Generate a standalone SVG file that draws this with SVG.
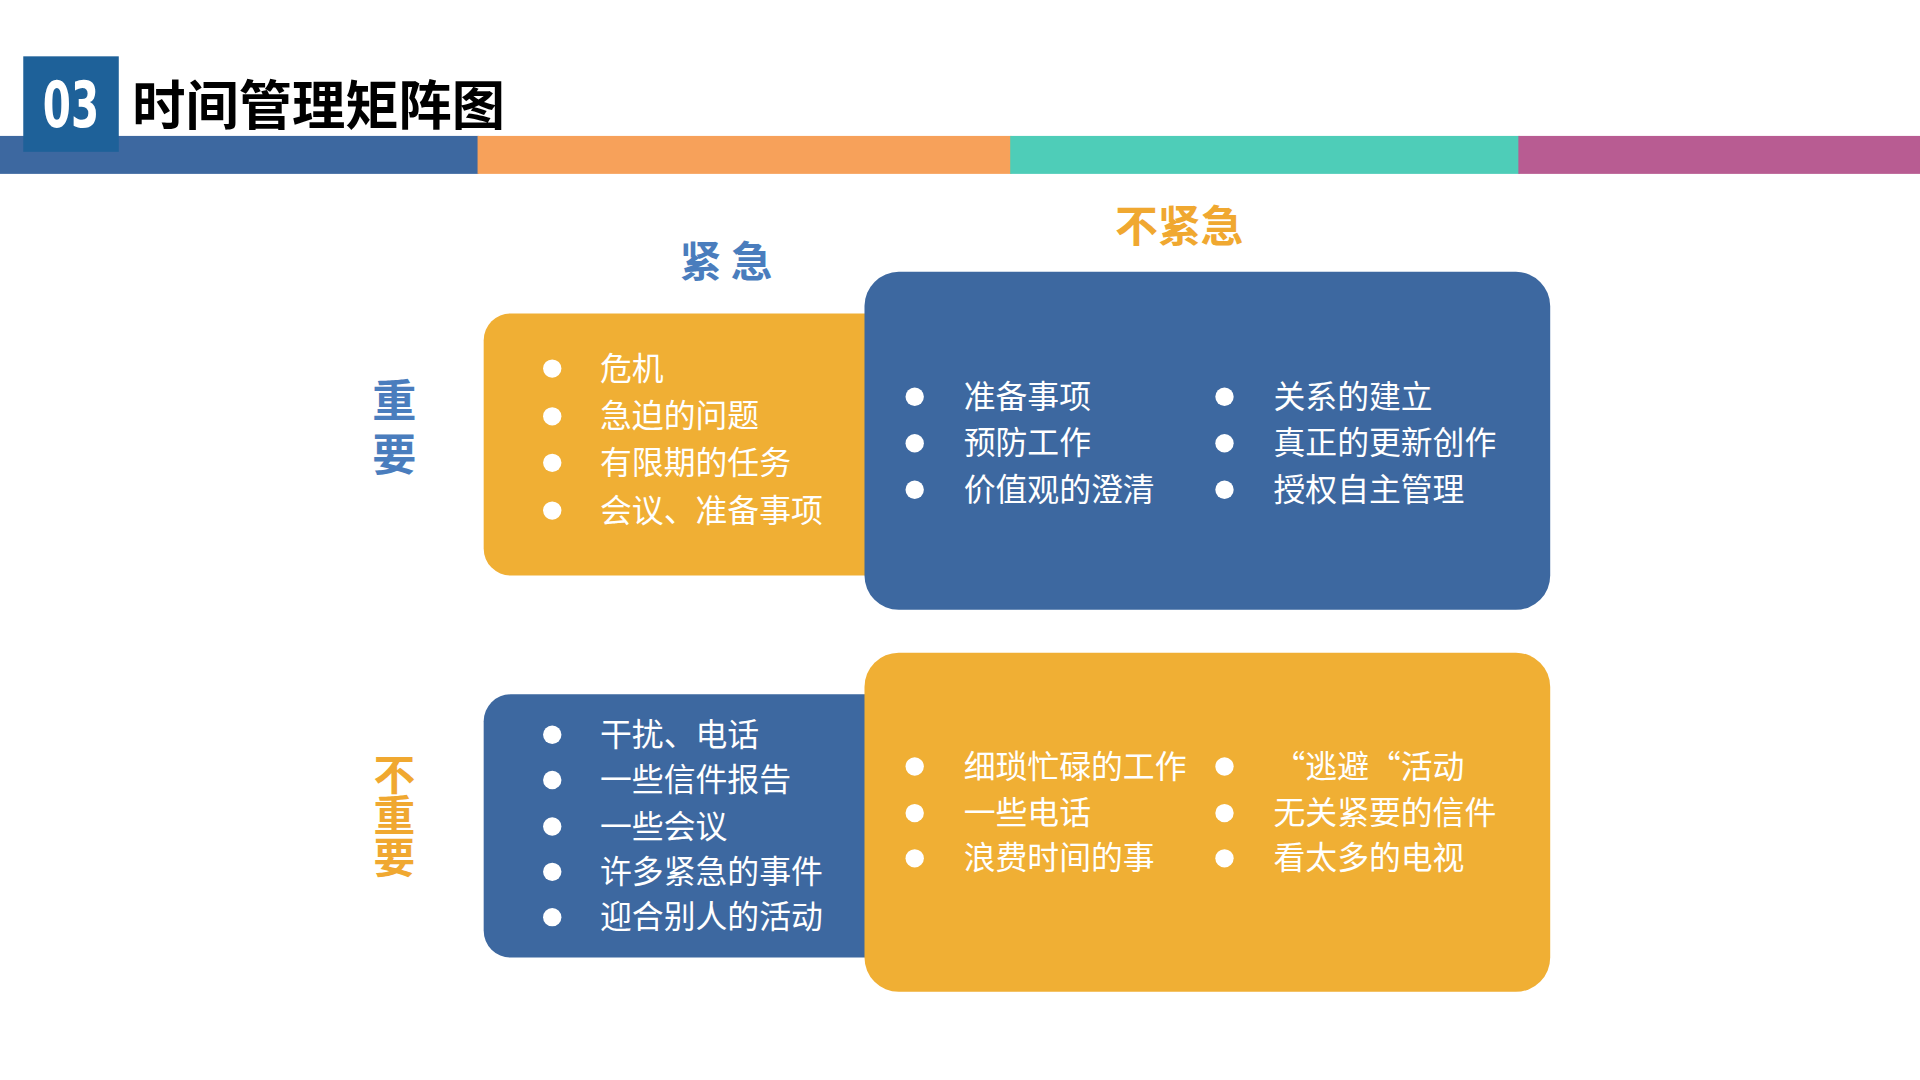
<svg xmlns="http://www.w3.org/2000/svg" width="1920" height="1080" viewBox="0 0 1920 1080">
<style>
.cjk{font-family:"Noto Sans CJK SC","Microsoft YaHei",sans-serif}
.item{font-family:"Noto Sans CJK SC",sans-serif;font-size:26px;fill:#ffffff;font-weight:400}
.dot{fill:#ffffff}
.lblB{font-family:"Noto Sans CJK SC",sans-serif;font-weight:700;fill:#4A7DBD}
.lblO{font-family:"Noto Sans CJK SC",sans-serif;font-weight:700;fill:#F0A830}
.vert{writing-mode:vertical-rl;text-orientation:upright}
.qO{fill:#F0AF34}
.qB{fill:#3D68A0}
</style>
<rect width="1920" height="1080" fill="#ffffff"/>
<g transform="scale(1.22449)">
  <g id="header">
    <rect x="0" y="111" width="391" height="31" fill="#3D68A0"/>
    <rect x="390" y="111" width="436" height="31" fill="#F7A15A"/>
    <rect x="825" y="111" width="416" height="31" fill="#4ECDB8"/>
    <rect x="1240" y="111" width="328" height="31" fill="#B85C92"/>
    <rect x="19" y="46" width="78" height="78" fill="#1E6199"/>
    <text x="35" y="104" font-family="DejaVu Sans Condensed,sans-serif" font-weight="700" font-size="52" fill="#ffffff" textLength="46" lengthAdjust="spacingAndGlyphs">03</text>
    <text x="108" y="102" class="cjk" font-weight="700" font-size="43.5" fill="#000000">时间管理矩阵图</text>
  </g>
  <g id="labels">
    <text x="593" y="226" class="lblB" font-size="34" text-anchor="middle">紧 急</text>
    <text x="963" y="198" class="lblO" font-size="35" text-anchor="middle">不紧急</text>
    <text x="322" y="309" class="lblB vert" font-size="36" letter-spacing="8">重要</text>
    <text x="322" y="615" class="lblO vert" font-size="34" letter-spacing="0">不重要</text>
  </g>
  <g id="q-urgent-important">
    <rect x="395" y="256" width="340" height="214" rx="22" class="qO"/>
    <circle cx="451" cy="301" r="7.5" class="dot"/><text x="490" y="310" class="item">危机</text>
    <circle cx="451" cy="340" r="7.5" class="dot"/><text x="490" y="349" class="item">急迫的问题</text>
    <circle cx="451" cy="378" r="7.5" class="dot"/><text x="490" y="387" class="item">有限期的任务</text>
    <circle cx="451" cy="417" r="7.5" class="dot"/><text x="490" y="426" class="item">会议、准备事项</text>
  </g>
  <g id="q-noturgent-important">
    <rect x="706" y="222" width="560" height="276" rx="28" class="qB"/>
    <circle cx="747" cy="324" r="7.5" class="dot"/><text x="787" y="333" class="item">准备事项</text>
    <circle cx="747" cy="362" r="7.5" class="dot"/><text x="787" y="371" class="item">预防工作</text>
    <circle cx="747" cy="400" r="7.5" class="dot"/><text x="787" y="409" class="item">价值观的澄清</text>
    <circle cx="1000" cy="324" r="7.5" class="dot"/><text x="1040" y="333" class="item">关系的建立</text>
    <circle cx="1000" cy="362" r="7.5" class="dot"/><text x="1040" y="371" class="item">真正的更新创作</text>
    <circle cx="1000" cy="400" r="7.5" class="dot"/><text x="1040" y="409" class="item">授权自主管理</text>
  </g>
  <g id="q-urgent-notimportant">
    <rect x="395" y="567" width="340" height="215" rx="22" class="qB"/>
    <circle cx="451" cy="600" r="7.5" class="dot"/><text x="490" y="609" class="item">干扰、电话</text>
    <circle cx="451" cy="637" r="7.5" class="dot"/><text x="490" y="646" class="item">一些信件报告</text>
    <circle cx="451" cy="675" r="7.5" class="dot"/><text x="490" y="684" class="item">一些会议</text>
    <circle cx="451" cy="712" r="7.5" class="dot"/><text x="490" y="721" class="item">许多紧急的事件</text>
    <circle cx="451" cy="749" r="7.5" class="dot"/><text x="490" y="758" class="item">迎合别人的活动</text>
  </g>
  <g id="q-noturgent-notimportant">
    <rect x="706" y="533" width="560" height="277" rx="28" class="qO"/>
    <circle cx="747" cy="626" r="7.5" class="dot"/><text x="787" y="635" class="item">细琐忙碌的工作</text>
    <circle cx="747" cy="664" r="7.5" class="dot"/><text x="787" y="673" class="item">一些电话</text>
    <circle cx="747" cy="701" r="7.5" class="dot"/><text x="787" y="710" class="item">浪费时间的事</text>
    <circle cx="1000" cy="626" r="7.5" class="dot"/><text x="1040" y="635" class="item">“逃避“活动</text>
    <circle cx="1000" cy="664" r="7.5" class="dot"/><text x="1040" y="673" class="item">无关紧要的信件</text>
    <circle cx="1000" cy="701" r="7.5" class="dot"/><text x="1040" y="710" class="item">看太多的电视</text>
  </g>
  <g id="connectors"></g>
</g>
</svg>
